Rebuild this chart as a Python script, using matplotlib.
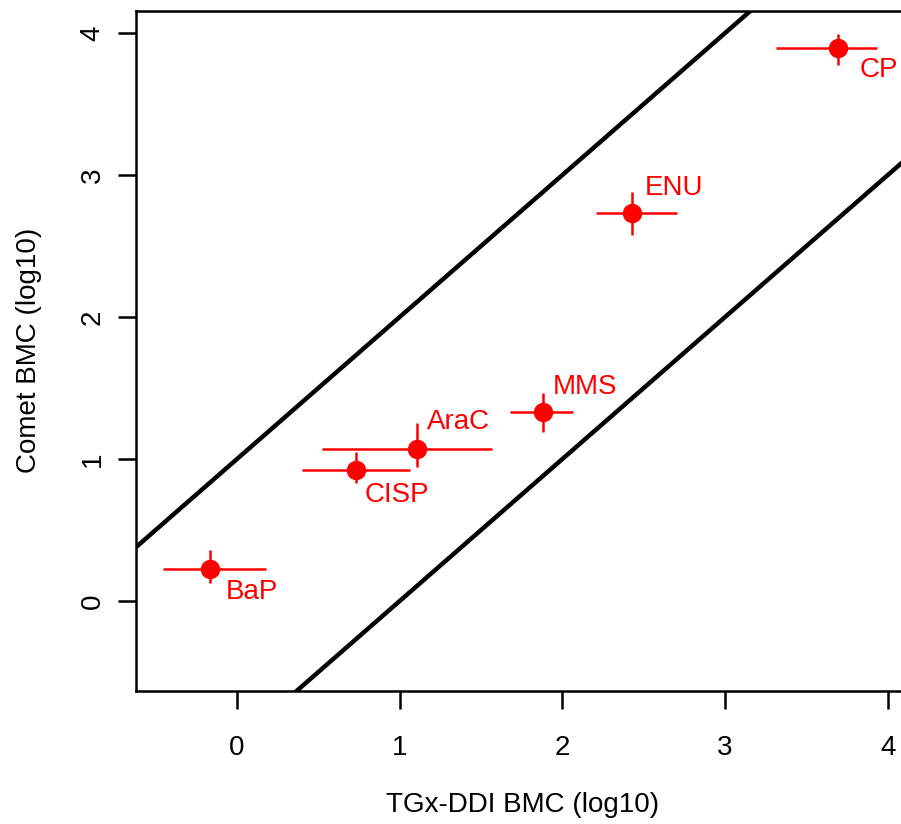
import matplotlib
matplotlib.use("Agg")
import matplotlib.pyplot as plt
import numpy as np

plt.rcParams['font.family'] = ['Liberation Sans', 'DejaVu Sans']

chemicals = ["BaP", "CISP", "AraC", "MMS", "ENU", "CP"]
tgx_bmc = [-0.166, 0.731, 1.106, 1.881, 2.428, 3.694]
tgx_lo = [-0.455, 0.400, 0.522, 1.678, 2.206, 3.313]
tgx_hi = [0.178, 1.063, 1.567, 2.065, 2.704, 3.934]
comet_bmc = [0.225, 0.923, 1.070, 1.331, 2.732, 3.894]
comet_lo = [0.127, 0.831, 0.944, 1.190, 2.577, 3.775]
comet_hi = [0.359, 1.049, 1.254, 1.465, 2.880, 3.993]
band_offsets = [1, -1]
xticks = [0, 1, 2, 3, 4]
yticks = [0, 1, 2, 3, 4]

# label offsets in pixels (dx, dy) - style only
label_offsets = [(16, -23), (9, -25), (10, 27), (10, 25), (13, 25), (22, -22)]

FS = 20
W, H = 901, 824
fig = plt.figure(figsize=(W / 100, H / 100), dpi=100)
x0_px, x_unit = 237.0, 162.7
y0_px, y_unit = 601.0, 142.0
left_px, right_px = 136, 930
top_px, bot_px = 11, 691
aw, ah = right_px - left_px, bot_px - top_px
ax = fig.add_axes([left_px / W, 1 - bot_px / H, aw / W, ah / H])
ax.set_xlim((left_px - x0_px) / x_unit, (right_px - x0_px) / x_unit)
ax.set_ylim((y0_px - bot_px) / y_unit, (y0_px - top_px) / y_unit)

xs = np.array(ax.get_xlim())
for off in band_offsets:
    ax.plot(xs, xs + off, color='black', lw=3.2, solid_capstyle='butt', zorder=2)

tb = np.array(tgx_bmc); cb = np.array(comet_bmc)
xerr = [tb - np.array(tgx_lo), np.array(tgx_hi) - tb]
yerr = [cb - np.array(comet_lo), np.array(comet_hi) - cb]
ax.errorbar(tb, cb, xerr=xerr, yerr=yerr, fmt='o', color='red', ecolor='red',
            elinewidth=1.8, capsize=0, markersize=13, zorder=3)

for name, x, y, (dx, dy) in zip(chemicals, tgx_bmc, comet_bmc, label_offsets):
    ax.annotate(name, (x, y), xytext=(dx * 0.72, dy * 0.72), textcoords='offset points',
                color='red', fontsize=FS, ha='left', va='center')

for s in ax.spines.values():
    s.set_linewidth(1.8)

ax.set_xticks(xticks)
ax.set_yticks(yticks)
ax.set_xticklabels([str(t) for t in xticks], fontsize=FS)
ax.set_yticklabels([str(t) for t in yticks], fontsize=FS, rotation=90, va='center')
ax.tick_params(axis='both', length=13, width=1.8, direction='out')
ax.tick_params(axis='x', pad=19)
ax.tick_params(axis='y', pad=9)

ax.set_xlabel("TGx-DDI BMC (log10)", fontsize=FS)
ax.xaxis.set_label_coords((523 - left_px) / aw, -(792 - bot_px) / ah)
ax.set_ylabel("Comet BMC (log10)", fontsize=FS)
ax.yaxis.set_label_coords(-(136 - 42) / aw, (bot_px - 350) / ah)

fig.savefig("out.png", dpi=100)
